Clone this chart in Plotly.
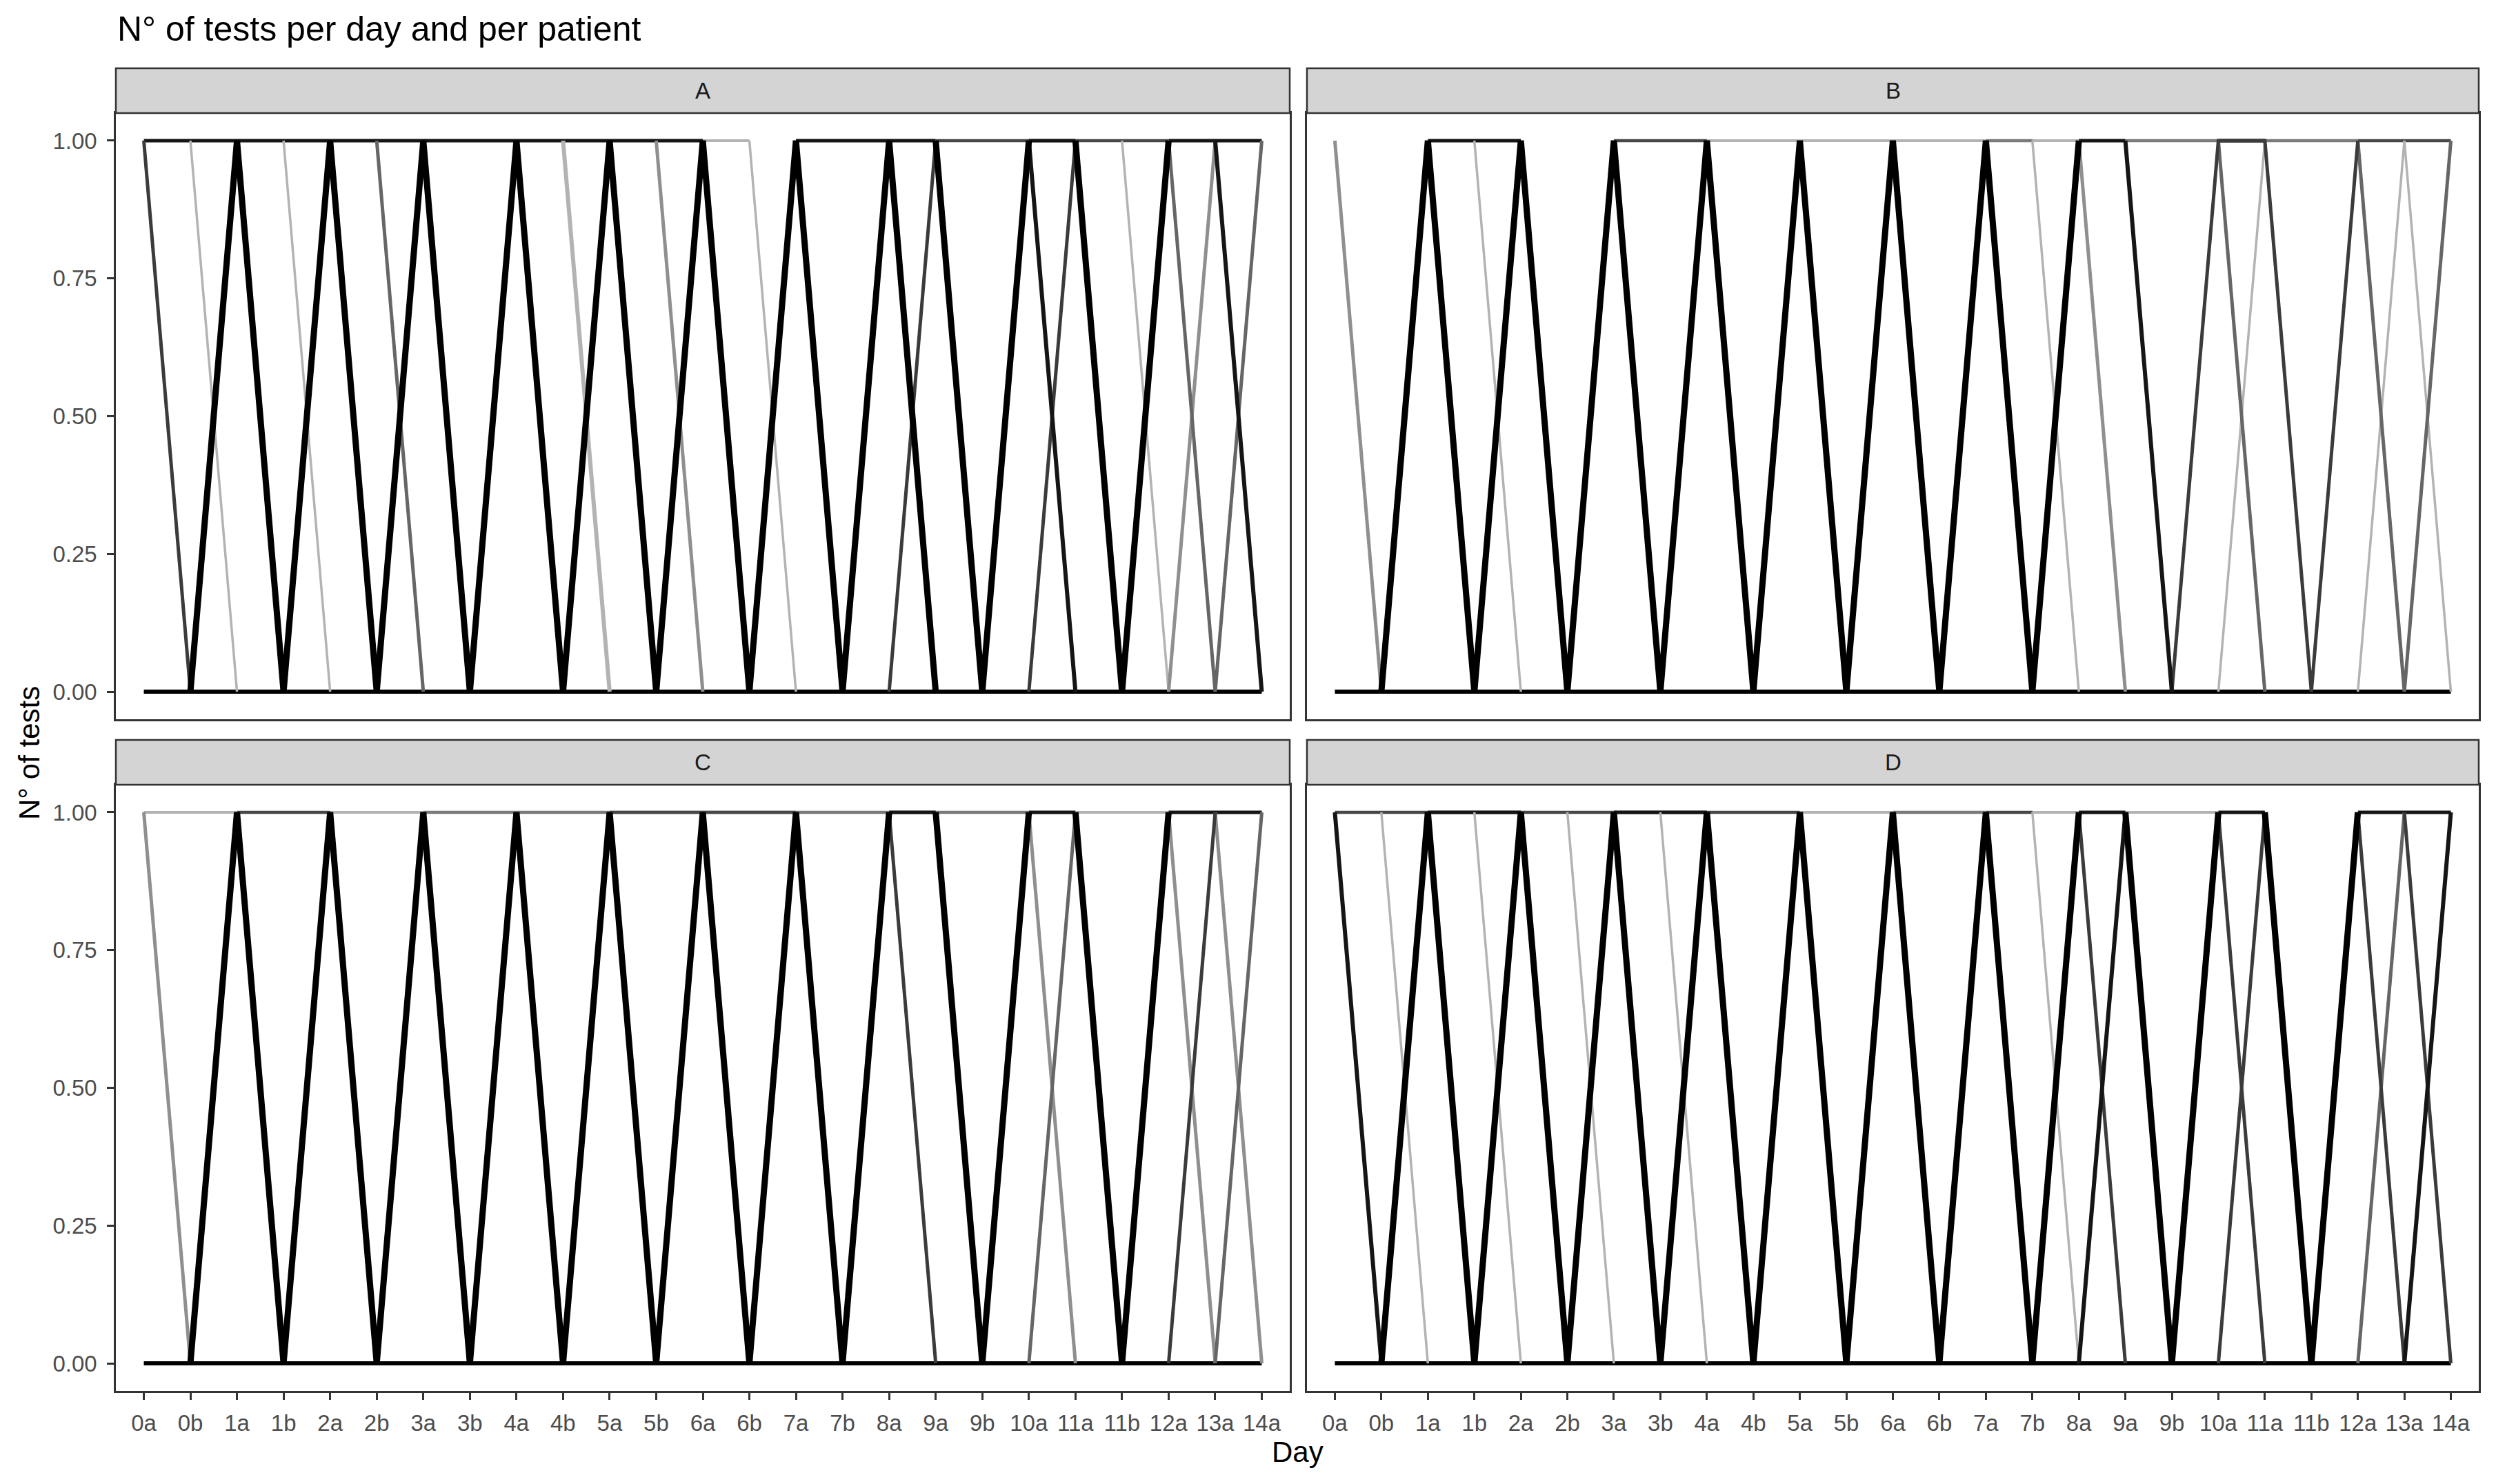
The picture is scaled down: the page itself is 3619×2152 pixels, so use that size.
import plotly.graph_objects as go

# ---------------- data ----------------
CATS = ["0a", "0b", "1a", "1b", "2a", "2b", "3a", "3b", "4a", "4b", "5a", "5b", "6a",
        "6b", "7a", "7b", "8a", "9a", "9b", "10a", "11a", "11b", "12a", "13a", "14a"]
Y_TICKS = [0, 0.25, 0.5, 0.75, 1.0]
Y_TICK_LABELS = ["0.00", "0.25", "0.50", "0.75", "1.00"]
PANELS = ["A", "B", "C", "D"]

# one character per day category: '1' = 1 test, '0' = 0 tests, '-' = line not present
A_top_L = ["------------11-----------"]
A_top_M = []
A_top_D = ["-----------------111111--"]
A_top_K = ["1111111111111-1111-11-111"]
A_bottom = ["0000000000000000000000000"]
A_L = ["-10----------10------10--", "---10--------------------"]
A_LW = ["---------10--------------"]
A_G = ["-----------10---------01-"]
A_M = ["-----10---------------101"]
A_D = ["10--------------01-01----"]
A_K2 = ["-------------------10--10"]
A_K = ["-01010101010101010-------", "-----------------101-----", "--------------------101--"]

B_top_L = ["--------111111111--------"]
B_top_M = ["--------------11-111111--"]
B_top_D = ["------111-------------111"]
B_top_K = ["--111-----------11-11----"]
B_bottom = ["0000000000000000000000000"]
B_L = ["---10----------10--01-010"]
B_LW = []
B_G = ["10--------------10-------"]
B_M = ["-------------------10-101"]
B_D = ["------------------01101--"]
B_K2 = ["-----------------10------"]
B_K = ["-0101010101010101--------"]

C_top_L = ["1111111-------------111--"]
C_top_M = ["------11111111111111-----"]
C_top_D = ["--111-----11111----------"]
C_top_K = ["----------------11-11-111"]
C_bottom = ["0000000000000000000000000"]
C_L = []
C_LW = []
C_G = ["10-----------------10-10-", "-----------------------10"]
C_M = ["-------------------01--01"]
C_D = ["----------------10----01-"]
C_K2 = []
C_K = ["-0101010101010101--------", "-----------------101-----", "--------------------101--"]

D_top_L = ["----------1111111111-----"]
D_top_M = ["------------111----------"]
D_top_D = ["11111111111---11---------"]
D_top_K = ["--111-111-------11-11-111"]
D_bottom = ["0000000000000000000000000"]
D_L = ["-10--10--------10--------", "---10--10----------------"]
D_LW = []
D_G = []
D_M = ["----------------------01-"]
D_D = ["----------------10-10-10-", "-------------------01--10"]
D_K2 = ["10--------------01-----01"]
D_K = ["-0101010101010101--------", "-----------------101-----", "--------------------101--"]

# ---------------- styles ----------------
STYLES = {
    "top_L": ("#b3b3b3", 4),
    "top_M": ("#7a7a7a", 4.5),
    "top_D": ("#474747", 4.5),
    "top_K": ("#141414", 5),
    "bottom": ("#000000", 6),
    "L": ("#b3b3b3", 3.5),
    "LW": ("#b3b3b3", 6),
    "G": ("#8f8f8f", 5),
    "M": ("#666666", 5),
    "D": ("#3b3b3b", 5),
    "K2": ("#151515", 6),
    "K": ("#000000", 9),
}
ORDER = ["top_L", "top_M", "top_D", "top_K", "bottom", "L", "LW", "G", "M", "D", "K2", "K"]

g = globals()
PANEL_DATA = {p: {s: g[f"{p}_{s}"] for s in ORDER} for p in PANELS}


def to_vals(s):
    if len(s) != len(CATS):
        raise ValueError(f"bad length {len(s)}: {s}")
    return [None if c == "-" else int(c) for c in s]


# ---------------- layout geometry (pixels) ----------------
W, H = 3619, 2152
FONT = "Liberation Sans, Arial, Helvetica, sans-serif"
PANEL_BOX = {  # x0, x1, y0(top), y1(bottom)
    "A": (168, 1870, 164, 1043),
    "B": (1895, 3594, 164, 1043),
    "C": (168, 1870, 1138, 2017),
    "D": (1895, 3594, 1138, 2017),
}
STRIP_H = 65

fig = go.Figure()
shapes, annotations = [], []
layout = dict(width=W, height=H, margin=dict(l=0, r=0, t=0, b=0),
              paper_bgcolor="white", plot_bgcolor="white", template="none",
              showlegend=False)

for i, p in enumerate(PANELS):
    n = "" if i == 0 else str(i + 1)
    x0, x1, y0, y1 = PANEL_BOX[p]
    bottom_row = p in ("C", "D")
    left_col = p in ("A", "C")
    layout["xaxis" + n] = dict(
        domain=[x0 / W, x1 / W], anchor="y" + n, type="category",
        categoryorder="array", categoryarray=CATS, range=[-0.6, len(CATS) - 0.4],
        showgrid=False, zeroline=False, showline=True, mirror=True,
        linecolor="#333333", linewidth=2.5,
        ticks="outside" if bottom_row else "", ticklen=10, tickwidth=2.5, tickcolor="#333333",
        showticklabels=bottom_row, tickfont=dict(family=FONT, size=33, color="#4d4d4d"),
        ticklabelstandoff=6, automargin=False, fixedrange=True)
    layout["yaxis" + n] = dict(
        domain=[1 - y1 / H, 1 - y0 / H], anchor="x" + n, range=[-0.05, 1.05],
        tickvals=Y_TICKS, ticktext=Y_TICK_LABELS,
        showgrid=False, zeroline=False, showline=True, mirror=True,
        linecolor="#333333", linewidth=2.5,
        ticks="outside" if left_col else "", ticklen=10, tickwidth=2.5, tickcolor="#333333",
        showticklabels=left_col, tickfont=dict(family=FONT, size=33, color="#4d4d4d"),
        ticklabelstandoff=8, automargin=False, fixedrange=True)

    for s in ORDER:
        color, width = STYLES[s]
        for line in PANEL_DATA[p][s]:
            fig.add_trace(go.Scatter(
                x=CATS, y=to_vals(line), mode="lines",
                line=dict(color=color, width=width),
                connectgaps=False, hoverinfo="skip", showlegend=False,
                xaxis="x" + n, yaxis="y" + n))

    # strip
    shapes.append(dict(type="rect", xref="paper", yref="paper",
                       x0=x0 / W, x1=x1 / W, y0=1 - y0 / H, y1=1 - (y0 - STRIP_H) / H,
                       fillcolor="#d4d4d4", line=dict(color="#333333", width=2.5), layer="above"))
    annotations.append(dict(text=p, xref="paper", yref="paper",
                            x=(x0 + x1) / 2 / W, y=1 - (y0 - STRIP_H / 2) / H,
                            xanchor="center", yanchor="middle", showarrow=False,
                            font=dict(family=FONT, size=33, color="#1a1a1a")))

annotations.append(dict(text="N° of tests per day and per patient", xref="paper", yref="paper",
                        x=168 / W, y=1 - 42 / H, xanchor="left", yanchor="middle",
                        showarrow=False, font=dict(family=FONT, size=50, color="black")))
annotations.append(dict(text="Day", xref="paper", yref="paper",
                        x=1881 / W, y=1 - 2105 / H, xanchor="center", yanchor="middle",
                        showarrow=False, font=dict(family=FONT, size=42, color="black")))
annotations.append(dict(text="N° of tests", xref="paper", yref="paper",
                        x=42 / W, y=1 - 1092 / H, xanchor="center", yanchor="middle",
                        textangle=-90, showarrow=False,
                        font=dict(family=FONT, size=42, color="black")))

layout["shapes"] = shapes
layout["annotations"] = annotations
fig.update_layout(**layout)

fig.write_html("out.html", config={"responsive": False, "displayModeBar": False},
               post_script="document.body.style.margin='0';")
